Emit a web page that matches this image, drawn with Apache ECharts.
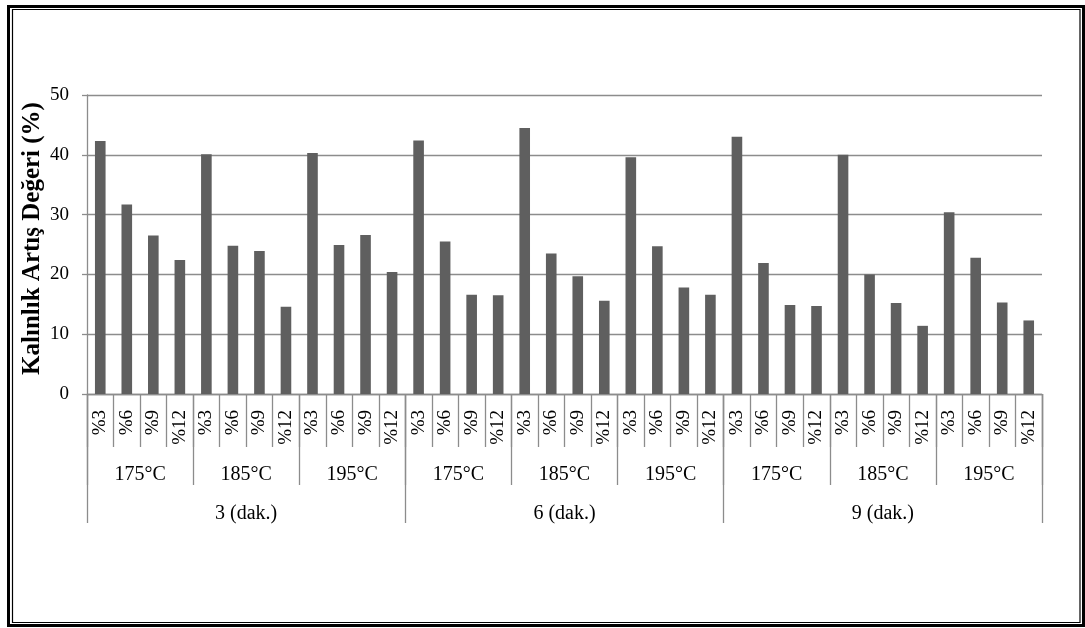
<!DOCTYPE html>
<html>
<head>
<meta charset="utf-8">
<script src="https://cdn.jsdelivr.net/npm/echarts@6/dist/echarts.min.js"></script>
<style>
  html, body { margin: 0; padding: 0; background: #fff; }
  #chart { width: 1085px; height: 628px; }
</style>
</head>
<body>
<div id="chart"></div>
<script>
// Additive ratios (innermost axis level)
const ratioLabels = ['%3', '%6', '%9', '%12'];
// Temperatures (middle axis level)
const tempLabels = ['175°C', '185°C', '195°C'];
// Durations (outer axis level)
const timeLabels = ['3 (dak.)', '6 (dak.)', '9 (dak.)'];

// Thickness increase (%), ordered 175/185/195 °C × %3..%12
const values3dak = [42.3, 31.7, 26.5, 22.4, 40.1, 24.8, 23.9, 14.6, 40.3, 24.9, 26.6, 20.4];
const values6dak = [42.4, 25.5, 16.6, 16.5, 44.5, 23.5, 19.7, 15.6, 39.6, 24.7, 17.8, 16.6];
const values9dak = [43.0, 21.9, 14.9, 14.7, 40.0, 20.0, 15.2, 11.4, 30.4, 22.8, 15.3, 12.3];

const yTicks = { min: 0, max: 50, step: 10 };
const yTitle = 'Kalınlık Artış Değeri (%)';

// Build the three category levels
const level1 = [];
const level2 = [];
timeLabels.forEach(() => {
  tempLabels.forEach(t => {
    level2.push(t);
    ratioLabels.forEach(r => level1.push(r));
  });
});
const values = values3dak.concat(values6dak, values9dak);

const FONT = '"Liberation Serif", "Times New Roman", serif';
const GRAY = '#8c8c8c';

const chart = echarts.init(document.getElementById('chart'), null, { renderer: 'canvas' });

function levelAxis(data, tickLen, labelMargin, extra) {
  return Object.assign({
    type: 'category',
    position: 'bottom',
    offset: 0,
    data: data,
    boundaryGap: true,
    axisLine: { show: false },
    axisTick: { show: true, interval: 0, length: tickLen, lineStyle: { color: GRAY, width: 1.3 } },
    axisLabel: {
      interval: 0, margin: labelMargin, color: '#000',
      fontFamily: FONT, fontSize: 20, verticalAlign: 'top'
    },
    splitLine: { show: false }
  }, extra || {});
}

chart.setOption({
  animation: false,
  backgroundColor: '#fff',
  grid: { left: 87, right: 43, top: 95, bottom: 234, containLabel: false },
  xAxis: [
    levelAxis(level1, 53, 16, {
      axisLine: { show: true, lineStyle: { color: GRAY, width: 1.3 } },
      axisLabel: { interval: 0, rotate: 90, margin: 16, color: '#000', fontFamily: FONT, fontSize: 19 }
    }),
    levelAxis(level2, 91, 71),
    levelAxis(timeLabels, 129, 110)
  ],
  yAxis: {
    type: 'value',
    min: yTicks.min,
    max: yTicks.max,
    interval: yTicks.step,
    name: yTitle,
    nameLocation: 'middle',
    nameGap: 42,
    nameMoveOverlap: false,
    nameRotate: 90,
    nameTextStyle: {
      fontFamily: FONT, fontSize: 25, fontWeight: 'bold', color: '#000',
      padding: [0, 0, 0, 12]
    },
    axisLine: { show: true, lineStyle: { color: GRAY, width: 1.3 } },
    axisTick: { show: true, inside: false, length: 5, lineStyle: { color: GRAY, width: 1.3 } },
    axisLabel: { margin: 18, color: '#000', fontFamily: FONT, fontSize: 19 },
    splitLine: { show: true, lineStyle: { color: GRAY, width: 1.3 } }
  },
  series: [{
    type: 'bar',
    xAxisIndex: 0,
    data: values,
    barWidth: '40%',
    itemStyle: { color: '#5f5f5f' }
  }],
  graphic: [
    { type: 'rect', shape: { x: 8.5, y: 6.5, width: 1075, height: 619 },
      style: { fill: 'none', stroke: '#000', lineWidth: 3 }, silent: true },
    { type: 'rect', shape: { x: 12.5, y: 9.5, width: 1067.5, height: 613 },
      style: { fill: 'none', stroke: '#000', lineWidth: 1.2 }, silent: true }
  ]
});
</script>
</body>
</html>
